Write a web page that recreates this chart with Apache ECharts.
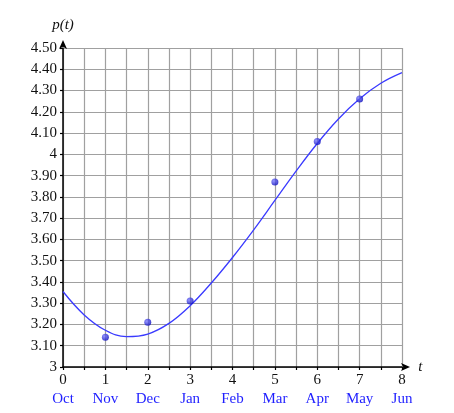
<!DOCTYPE html>
<html>
<head>
<meta charset="utf-8">
<script src="https://cdn.jsdelivr.net/npm/echarts@6/dist/echarts.min.js"></script>
<style>
  html, body { margin: 0; padding: 0; background: #fff; }
  #chart { width: 454px; height: 413px; }
</style>
</head>
<body>
<div id="chart"></div>
<script>
// month under each whole t value
const months = ['Oct', 'Nov', 'Dec', 'Jan', 'Feb', 'Mar', 'Apr', 'May', 'Jun']
const yTickLabels = ['3', '3.10', '3.20', '3.30', '3.40', '3.50', '3.60', '3.70', '3.80',
  '3.90', '4', '4.10', '4.20', '4.30', '4.40', '4.50']

// observed points
const obsT = [1, 2, 3, 5, 6, 7]
const obsP = [3.14, 3.21, 3.31, 3.87, 4.06, 4.26]

const curveT = [0, 0.5, 1, 1.5, 2, 2.5, 3, 3.5, 4, 4.5, 5, 5.5, 6, 6.5, 7, 7.5, 8]
const curveP = [3.355, 3.245, 3.173, 3.143, 3.155, 3.205, 3.288, 3.395, 3.515, 3.645,
  3.783, 3.921, 4.051, 4.166, 4.261, 4.334, 4.384]

const serif = 'Liberation Serif'
const chart = echarts.init(document.getElementById('chart'))

chart.setOption({
  animation: false,
  grid: {
    left: 63,
    right: 52,
    top: 48,
    bottom: 46,
    containLabel: false,
    outerBoundsMode: 'none'
  },
  xAxis: {
    type: 'value',
    min: 0,
    max: 8,
    interval: 0.5,
    name: 't',
    nameLocation: 'end',
    nameGap: 14,
    nameTextStyle: { fontFamily: serif, fontStyle: 'italic', fontSize: 15, color: '#111' },
    axisLine: {
      lineStyle: { color: '#000', width: 1.5 },
      symbol: ['none', 'arrow'],
      symbolSize: [6, 9],
      symbolOffset: [0, 8]
    },
    axisTick: { show: true, length: 3, lineStyle: { color: '#000', width: 1.2 } },
    splitLine: { show: true, lineStyle: { color: '#a0a0a0', width: 1.2 } },
    axisLabel: {
      margin: 4,
      formatter: function (v) {
        if (Math.abs(v - Math.round(v)) > 1e-6) return ''
        return '{n|' + Math.round(v) + '}\n{m|' + months[Math.round(v)] + '}'
      },
      rich: {
        n: { fontFamily: serif, fontSize: 15, color: '#111', lineHeight: 19 },
        m: { fontFamily: serif, fontSize: 15, color: '#1f1fff', lineHeight: 19 }
      }
    }
  },
  yAxis: {
    type: 'value',
    min: 3,
    max: 4.5,
    interval: 0.1,
    name: 'p(t)',
    nameLocation: 'end',
    nameGap: 15,
    nameTextStyle: { fontFamily: serif, fontStyle: 'italic', fontSize: 15, color: '#111', align: 'center' },
    axisLine: {
      lineStyle: { color: '#000', width: 1.5 },
      symbol: ['none', 'arrow'],
      symbolSize: [6, 9],
      symbolOffset: [0, 8]
    },
    axisTick: { show: true, length: 3, lineStyle: { color: '#000', width: 1.2 } },
    splitLine: { show: true, lineStyle: { color: '#a0a0a0', width: 1.2 } },
    axisLabel: {
      margin: 6,
      fontFamily: serif,
      fontSize: 15,
      color: '#111',
      formatter: function (v) {
        return yTickLabels[Math.round((v - 3) * 10)]
      }
    }
  },
  series: [
    {
      type: 'line',
      data: curveT.map((t, i) => [t, curveP[i]]),
      smooth: 0.4,
      showSymbol: false,
      lineStyle: { color: '#3a3aff', width: 1.3 },
      z: 3
    },
    {
      type: 'scatter',
      data: obsT.map((t, i) => [t, obsP[i]]),
      symbolSize: 7,
      itemStyle: {
        color: {
          type: 'radial', x: 0.35, y: 0.35, r: 0.75,
          colorStops: [
            { offset: 0, color: '#7a7aff' },
            { offset: 1, color: '#0000b8' }
          ]
        }
      },
      z: 4
    }
  ]
})
</script>
</body>
</html>
